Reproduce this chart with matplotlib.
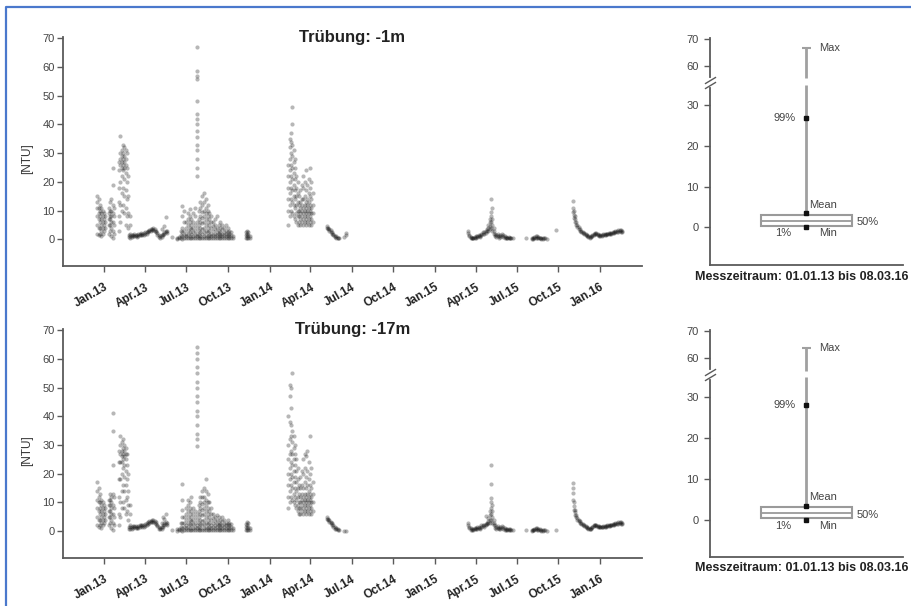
import numpy as np
import pandas as pd
import matplotlib
matplotlib.use("Agg")
import matplotlib.pyplot as plt
import matplotlib.transforms as mtransforms
from matplotlib.lines import Line2D

plt.rcParams['font.family'] = ['Liberation Sans', 'DejaVu Sans']

# ---------------------------------------------------------------- data
START = pd.Timestamp('2013-01-01')        # day 0 of the day offsets below
X_MIN, X_MAX = '2012-10-02', '2016-04-02'

xtick_dates = ['2013-01-01', '2013-04-01', '2013-07-01', '2013-10-01',
               '2014-01-01', '2014-04-01', '2014-07-01', '2014-10-01',
               '2015-01-01', '2015-04-01', '2015-07-01', '2015-10-01',
               '2016-01-01']
xtick_labels = ['Jan.13', 'Apr.13', 'Jul.13', 'Oct.13', 'Jan.14', 'Apr.14',
                'Jul.14', 'Oct.14', 'Jan.15', 'Apr.15', 'Jul.15', 'Oct.15',
                'Jan.16']
titles = ['Trübung: -1m', 'Trübung: -17m']
period_text = 'Messzeitraum: 01.01.13 bis 08.03.16'

# readings per measuring day (days after 01.01.2013), -1 m ("top") / -17 m ("bot")
a_days = [-16, -13, -10, -7, -4, -1, 2, 9, 12, 15, 18, 20]
a_top = [[2, 5, 8, 11, 13, 15], [1.5, 4, 7, 9, 11, 14], [2, 4, 6, 8, 10, 12],
         [1, 3, 5, 7, 9, 11], [2, 4, 6, 8, 10], [3, 5, 7, 9], [4, 6, 8],
         [2, 5, 7, 9, 11], [3, 5, 7, 8, 10, 13], [1, 4, 6, 8, 10, 14],
         [0.5, 3, 6, 9, 12, 19, 25], [2, 5, 8, 11]]
a_bot = [[2, 5, 8, 11, 14, 17], [1.5, 4, 7, 10, 12, 15], [2, 4, 6, 8, 10, 13],
         [1, 3, 5, 7, 9, 11], [2, 4, 6, 8, 10], [3, 5, 7, 9], [4, 6, 8],
         [2, 5, 7, 9, 11], [3, 5, 7, 9, 11, 13], [1, 4, 6, 8, 10, 12],
         [0.5, 3, 6, 9, 13, 23, 35, 41], [2, 5, 8, 12]]

b_days = [32, 35, 38, 41, 44, 47, 50, 53, 56]
b_top = [[3, 8, 13, 18, 24, 27], [6, 12, 20, 26, 28, 30, 36], [10, 16, 22, 25, 27, 29, 31],
         [12, 18, 24, 26, 28, 30, 33], [9, 15, 21, 25, 27, 29, 32], [5, 11, 17, 23, 26, 28, 31],
         [8, 14, 20, 25, 30], [4, 9, 15, 22], [2, 5, 8]]
b_bot = [[2, 6, 12, 18, 24, 28], [5, 10, 18, 24, 27, 30, 33], [8, 14, 20, 24, 26, 28, 31],
         [10, 16, 22, 25, 27, 29, 32], [8, 14, 19, 23, 26, 28, 30], [6, 11, 16, 21, 25, 27, 29],
         [7, 12, 18, 23, 27], [4, 9, 14, 20], [2, 6, 9]]

c_days = [54, 57, 60, 63, 66, 69, 72, 75, 78, 81, 84, 87, 90, 93, 96, 99, 102, 105,
          108, 111, 114, 117, 120, 123, 126, 129, 132, 135, 138, 149]
c_top = [[0.8, 1.4], [0.6, 1.2], [0.8, 1.4], [1.0, 1.6], [1.2, 1.8], [1.0, 1.6], [0.9, 1.5],
         [1.1, 1.7], [1.4, 2.0], [1.6, 2.2], [1.4, 2.0], [1.5, 2.1], [1.8, 2.4], [2.0, 2.6],
         [2.4, 3.0], [2.8, 3.4], [3.0, 3.6], [3.1, 3.7], [3.2, 3.8], [2.9, 3.5], [2.4, 3.0],
         [1.6, 2.2], [0.8, 1.4], [0.5, 1.1], [0.8, 1.4, 3.5], [1.4, 2.0], [2.0, 2.6, 4.5],
         [2.4, 3.0, 7.8], [2.2, 2.8], [0.8]]
c_bot = [[0.8, 1.4], [0.7, 1.3], [0.9, 1.5], [1.1, 1.7], [1.3, 1.9], [1.1, 1.7], [1.0, 1.6],
         [1.2, 1.8], [1.5, 2.1], [1.7, 2.3], [1.5, 2.1], [1.6, 2.2], [1.9, 2.5], [2.1, 2.7],
         [2.5, 3.1], [2.9, 3.5], [3.1, 3.7], [3.2, 3.8], [3.3, 3.9], [3.0, 3.6], [2.5, 3.1],
         [1.7, 2.3], [0.9, 1.5], [0.6, 1.2], [0.9, 1.5, 3.0], [1.5, 2.1, 5.0], [2.1, 2.7, 4.2],
         [2.5, 3.1, 5.8], [2.3, 2.9], [0.5]]

d_days = [160, 164, 168, 172, 176, 180, 184, 188, 192, 196, 200, 204, 208, 212, 216, 220,
          224, 228, 232, 236, 240, 244, 248, 252, 256, 260, 264, 268, 272, 276, 280, 284]
d_top = [[0.2, 0.6], [0.3, 0.8], [0.5, 1.5, 3], [0.2, 1, 2.5, 4, 8, 11.5], [0.5, 1.5, 3, 6, 10],
         [0.3, 1, 2, 4, 6], [0.5, 1.5, 3, 5, 7, 9], [0.3, 1, 2.5, 4, 6, 8, 10.5],
         [0.5, 2, 3.5, 5, 7], [0.3, 1, 2.5, 4, 6, 9], [0.5, 1.5, 3, 5, 8, 11], [0.3, 1, 2, 4, 6],
         [0.5, 1.5, 3, 5, 7, 10], [0.3, 1, 2.5, 4, 6, 8, 11, 13],
         [0.5, 2, 3.5, 5.5, 7.5, 9.5, 12, 15], [0.3, 1, 2.5, 4, 6, 8, 10, 13, 16],
         [0.5, 1.5, 3, 5, 7, 9, 11, 14], [0.3, 1, 2.5, 4, 6, 8, 10, 12], [0.5, 1.5, 3, 5, 7, 9],
         [0.3, 1, 2, 4, 6, 8], [0.5, 1.5, 3, 4.5, 6], [0.3, 1, 2, 3.5, 5, 7], [0.5, 1.5, 2.5, 4, 8],
         [0.3, 1, 2, 3, 5], [0.5, 1.5, 2.5, 4, 6], [0.3, 1, 2, 3.5, 5], [0.5, 1.5, 2.5, 4],
         [0.3, 1, 2, 3, 5], [0.5, 1.5, 2.5, 4], [0.3, 1, 2, 3], [0.5, 1.5, 2.5], [0.3, 1.2]]
d_bot = [[0.2, 0.6], [0.3, 0.8], [0.5, 1.5, 3], [0.2, 1, 3, 5, 7.5, 11, 16.3], [0.5, 1.5, 3, 5],
         [0.3, 1, 2, 4, 6, 8], [0.5, 1.5, 3, 5, 7, 9, 11], [0.3, 1, 2.5, 4, 6, 8, 10],
         [0.5, 2, 3.5, 5, 7, 12], [0.3, 1, 2.5, 4, 6, 8], [0.5, 1.5, 3, 5, 7], [0.3, 1, 2, 4, 6],
         [0.5, 1.5, 3, 5, 7, 9], [0.3, 1, 2.5, 4, 6, 8, 10, 12],
         [0.5, 2, 3.5, 5.5, 7.5, 9.5, 12, 14], [0.3, 1, 2.5, 4, 6, 8, 10, 12, 15],
         [0.5, 1.5, 3, 5, 7, 9, 11, 14, 18], [0.3, 1, 2.5, 4, 6, 8, 10, 13], [0.5, 1.5, 3, 5, 7, 10],
         [0.3, 1, 2, 4, 6, 8], [0.5, 1.5, 3, 4.5, 6], [0.3, 1, 2, 3.5, 5], [0.5, 1.5, 2.5, 4, 5.5],
         [0.3, 1, 2, 3, 5], [0.5, 1.5, 2.5, 4], [0.3, 1, 2, 3.5, 5], [0.5, 1.5, 2.5, 4],
         [0.3, 1, 2, 3], [0.5, 1.5, 2.5, 4], [0.3, 1, 2, 3], [0.5, 1.5, 2.5], [0.3, 1.2]]

spike_days = [204]
spike_top = [[22, 25, 28, 31, 33, 35.5, 37.7, 40, 42, 43.8, 48.2, 55.8, 57, 58.6, 67]]
spike_bot = [[29.5, 32, 34, 37, 40, 42, 45, 47, 50, 52, 55, 57, 60, 62, 64]]

e_days = [312, 315, 318, 321]
e_top = [[0.5, 1.5, 2.5], [0.3, 1, 2, 3], [0.5, 1.5, 2.5], [0.5, 1.2]]
e_bot = [[0.5, 1.5, 2.5], [0.3, 1, 2, 3.2], [0.5, 1.5, 2.8], [0.5, 1.2]]

f_days = [406, 409, 412, 415, 418, 421, 424, 427, 430, 433, 436, 439, 442, 445, 448,
          451, 454, 457, 460]
f_top = [[5, 10, 14, 18, 22, 26], [8, 12, 16, 20, 24, 28, 32, 35], [10, 14, 18, 22, 26, 30, 34, 37],
         [9, 13, 17, 21, 25, 29, 33, 40, 46], [8, 12, 15, 19, 23, 27, 31], [7, 11, 14, 17, 21, 25, 28],
         [6, 9, 12, 15, 18, 22], [5, 8, 10, 13, 16, 20], [6, 8, 10, 12, 15], [5, 7, 9, 11, 13, 17],
         [6, 8, 10, 12, 14, 19], [5, 7, 9, 11, 14, 18, 22], [6, 8, 10, 12, 15, 20],
         [5, 7, 9, 11, 13, 17, 24], [6, 8, 10, 12, 14, 19], [5, 7, 9, 11, 13, 16, 21],
         [6, 8, 10, 12, 15, 18, 25], [5, 7, 9, 11, 14, 20], [6, 9, 12, 16]]
f_bot = [[8, 12, 16, 20, 25, 30, 40], [10, 14, 18, 22, 27, 32, 38, 47, 51],
         [12, 16, 20, 24, 28, 33, 37, 43, 50], [11, 15, 19, 23, 27, 31, 35, 55],
         [10, 13, 17, 21, 25, 29, 33], [9, 12, 15, 19, 23, 27, 30], [8, 11, 14, 17, 21, 25],
         [7, 9, 12, 15, 18, 22], [6, 8, 10, 13, 16], [6, 8, 10, 12, 15, 19], [7, 9, 11, 13, 16, 21],
         [6, 8, 10, 12, 15, 20, 25], [7, 9, 11, 13, 17, 22, 27], [6, 8, 10, 12, 15, 19, 26],
         [7, 9, 11, 13, 16, 21, 28], [6, 8, 10, 12, 14, 18, 24], [7, 9, 11, 13, 16, 20, 33],
         [6, 8, 10, 12, 15, 22], [7, 10, 13, 17]]

g_days = [491, 494, 497, 500, 503, 506, 509, 512, 515, 518, 530, 534]
g_top = [[4.5, 4.0], [4.0, 3.6], [3.5, 3.0], [3.2, 2.5], [2.5, 2.0], [2.0, 1.5], [1.2, 0.8],
         [1.0, 0.5], [0.6, 0.3], [0.5], [0.8], [1.5, 2.2]]
g_bot = [[4.8, 4.2], [4.2, 3.8], [3.8, 3.2], [3.3, 2.8], [2.8, 2.2], [2.2, 1.6], [1.4, 0.9],
         [1.0, 0.6], [0.7, 0.4], [0.5], [0.1], [0.0]]

i_days = [803, 806, 809, 812, 815, 818, 821, 824, 827, 830, 833, 836, 839, 842, 845, 848,
          851, 854, 857, 860, 863, 866, 869, 872, 875, 878, 881, 884, 887, 890, 893, 896,
          899, 902, 932, 944, 947, 950, 953, 956, 959, 962, 965, 968, 971, 974, 977, 998]
i_top = [[3.0, 2.2], [1.5, 1.0], [0.8, 0.4], [0.5, 0.3], [0.6, 0.3], [0.8, 0.5], [1.0, 0.6],
         [1.2, 0.8], [1.5, 1.0], [1.2, 0.9], [1.5, 2.0], [2.0, 2.5], [2.5, 1.8], [2.2, 3.0],
         [2.8, 3.5], [3.0, 4.0, 5.0], [3.5, 4.5, 6.0, 7.0], [4.0, 6.0, 8.0, 9.5, 14.0],
         [3.0, 5.0, 7.0, 11.0], [2.0, 3.0, 4.0], [1.2, 2.0], [0.8, 1.5], [1.0, 1.8], [1.2, 0.6],
         [1.5, 0.8], [1.0, 2.0], [0.8, 1.5], [1.0, 0.5], [0.8, 0.4], [0.6, 0.3], [0.5, 0.8],
         [0.4, 0.6], [0.5], [0.4], [0.3], [0.4, 0.2], [0.5, 0.2], [0.7, 0.3], [1.0, 0.5],
         [1.2, 0.6], [0.8, 0.4], [0.6, 0.3], [0.5, 0.2], [0.4, 0.2], [0.3], [0.3], [0.2], [3.2]]
i_bot = [[3.0, 2.0], [1.5, 1.0], [1.0, 0.5], [0.8, 0.4], [0.8, 0.4], [1.0, 0.6], [1.2, 0.8],
         [1.3, 0.9], [1.5, 1.0], [1.2, 0.9], [1.5, 2.0], [1.8, 2.3], [2.0, 1.6], [2.0, 2.5, 5.2],
         [2.5, 3.0], [2.8, 3.5, 4.5], [3.0, 4.0, 5.5, 7.0], [4.0, 6.0, 8.0, 10.0, 11.5, 16.5, 23.0],
         [3.0, 5.0, 7.0, 9.0], [2.0, 3.0, 4.0], [1.2, 2.0], [0.8, 1.5], [1.0, 1.8], [1.2, 0.6],
         [1.5, 0.8], [1.0, 1.8], [0.8, 1.4], [1.0, 0.5], [0.8, 0.4], [0.6, 0.3], [0.5, 0.8],
         [0.4, 0.6], [0.5], [0.4], [0.4], [0.4, 0.2], [0.5, 0.3], [0.8, 0.4], [1.1, 0.6],
         [1.0, 0.5], [0.8, 0.4], [0.6, 0.3], [0.5, 0.2], [0.4, 0.2], [0.3], [0.3], [0.2], [0.4]]

j_days = [1035, 1037, 1039, 1042, 1045, 1048, 1051, 1054, 1057, 1060, 1063, 1066, 1069,
          1072, 1075, 1078, 1081, 1084, 1087, 1090, 1093, 1096, 1099, 1102, 1105, 1108,
          1111, 1114, 1117, 1120, 1123, 1126, 1129, 1132, 1135, 1138, 1141, 1144]
j_top = [[13.5, 11.0, 9.5], [10.0, 8.5, 7.5], [8.0, 7.0, 6.0], [6.0, 5.0], [5.0, 4.2],
         [4.2, 3.6], [3.6, 3.0], [3.0, 2.6], [2.6, 2.2], [2.2, 1.8], [1.8, 1.4], [1.4, 1.0],
         [1.0, 0.7], [0.8, 0.5], [0.8, 1.0], [1.2, 1.5], [1.6, 1.9], [1.9, 2.2], [1.8, 2.1],
         [1.5, 1.8], [1.3, 1.6], [1.2, 1.5], [1.3, 1.6], [1.4, 1.7], [1.5, 1.8], [1.6, 1.9],
         [1.7, 2.0], [1.8, 2.1], [1.9, 2.2], [2.0, 2.3], [2.1, 2.4], [2.2, 2.6], [2.4, 2.8],
         [2.6, 3.0], [2.7, 3.2], [2.8, 3.3], [2.7, 3.2], [2.6, 3.0]]
j_bot = [[16.8, 15.0, 13.4, 11.0], [10.0, 8.7, 7.5], [7.5, 6.5, 5.5], [5.5, 4.8], [4.6, 4.0],
         [4.0, 3.4], [3.4, 2.9], [2.9, 2.5], [2.5, 2.1], [2.1, 1.7], [1.7, 1.3], [1.3, 1.0],
         [1.0, 0.7], [0.8, 0.6], [0.9, 1.1], [1.3, 1.6], [1.7, 2.0], [2.0, 2.3], [1.9, 2.2],
         [1.6, 1.9], [1.4, 1.7], [1.3, 1.6], [1.3, 1.6], [1.4, 1.7], [1.5, 1.8], [1.6, 1.9],
         [1.7, 2.0], [1.8, 2.1], [1.9, 2.2], [2.0, 2.3], [2.1, 2.4], [2.2, 2.6], [2.4, 2.8],
         [2.5, 2.9], [2.6, 3.1], [2.7, 3.2], [2.6, 3.1], [2.5, 2.9]]

# box-plot statistics [-1 m, -17 m]
box_min = [0.0, 0.0]
box_q1 = [0.25, 0.4]
box_med = [1.6, 1.6]
box_q3 = [3.1, 3.0]
box_mean = [3.5, 3.4]
box_p99 = [26.9, 28.0]
box_max = [66.6, 63.8]

series_top = [(a_days, a_top), (b_days, b_top), (c_days, c_top), (d_days, d_top),
              (spike_days, spike_top), (e_days, e_top), (f_days, f_top), (g_days, g_top),
              (i_days, i_top), (j_days, j_top)]
series_bot = [(a_days, a_bot), (b_days, b_bot), (c_days, c_bot), (d_days, d_bot),
              (spike_days, spike_bot), (e_days, e_bot), (f_days, f_bot), (g_days, g_bot),
              (i_days, i_bot), (j_days, j_bot)]


def expand(series):
    xs, ys = [], []
    for days, vals in series:
        for d, vs in zip(days, vals):
            xs.extend([d] * len(vs))
            ys.extend(vs)
    dates = START + pd.to_timedelta(np.asarray(xs, float), unit='D')
    return dates, np.asarray(ys, float)


# broken axis for the box plots (35..55 compressed)
BRK_LO, BRK_HI = 35.0, 55.0
_xp = [-1000.0, BRK_LO, BRK_HI, 1000.0]
_fp = [-1000.0, BRK_LO, 36.2, 36.2 + (1000.0 - BRK_HI) * 0.671]


def fwd(y):
    return np.interp(np.asarray(y, float), _xp, _fp)


def inv(t):
    return np.interp(np.asarray(t, float), _fp, _xp)


# ---------------------------------------------------------------- figure
SPINE = '#5a5a5a'
TICKC = '#444444'
fig = plt.figure(figsize=(9.12, 6.06), dpi=100)

layout = [(0.5611, 0.5627, 0.5432), (0.0795, 0.0804, 0.0627)]

for k, (series, (sb, bb, ty)) in enumerate(zip([series_top, series_bot], layout)):
    # ---------- time series
    ax = fig.add_axes([0.0694, sb, 0.6342, 0.3771])
    dates, vals = expand(series)
    ax.plot(dates, vals, 'o', ms=3.0, color='#111111', alpha=0.3, mew=0)
    ax.set_xlim(pd.Timestamp(X_MIN), pd.Timestamp(X_MAX))
    ax.set_ylim(-9.3, 70.3)
    ax.set_yticks(range(0, 71, 10))
    ax.set_xticks(pd.to_datetime(xtick_dates))
    ax.set_xticklabels(xtick_labels, rotation=30, ha='right', rotation_mode='anchor',
                       fontsize=8.5, fontweight='bold', color='#222222')
    for s in ('top', 'right'):
        ax.spines[s].set_visible(False)
    for s in ('left', 'bottom'):
        ax.spines[s].set_color(SPINE)
        ax.spines[s].set_linewidth(1.3)
    ax.tick_params(axis='y', direction='out', length=4, width=1, color=SPINE,
                   labelsize=8, labelcolor=TICKC, pad=2)
    ax.tick_params(axis='x', direction='out', length=4, width=1, color=SPINE, pad=7)
    ax.set_ylabel('[NTU]', fontsize=8.5, color='#333333')
    ax.yaxis.set_label_coords(-0.053, 0.468)
    ax.text(0.5, 1.0, titles[k], transform=ax.transAxes, ha='center', va='center',
            fontsize=12, fontweight='bold', color='#222222')

    # ---------- box plot
    bx = fig.add_axes([0.7785, bb, 0.2116, 0.3748])
    bx.set_yscale('function', functions=(fwd, inv))
    bx.set_xlim(0, 2)
    bx.set_ylim(-9.2, 70.3)
    bx.set_yticks([0, 10, 20, 30, 60, 70])
    bx.set_xticks([])
    for s in ('top', 'right'):
        bx.spines[s].set_visible(False)
    for s in ('left', 'bottom'):
        bx.spines[s].set_color(SPINE)
        bx.spines[s].set_linewidth(1.3)
    bx.tick_params(axis='y', direction='out', length=4, width=1, color=SPINE,
                   labelsize=8, labelcolor=TICKC, pad=4)

    q1, q3, med = box_q1[k], box_q3[k], box_med[k]
    mn, mx, mean, p99 = box_min[k], box_max[k], box_mean[k], box_p99[k]
    wc = '#a0a0a0'
    bx.vlines(1, q3, BRK_LO, color=wc, lw=2, zorder=2)
    bx.vlines(1, BRK_HI + 0.5, mx, color=wc, lw=2, zorder=2)
    bx.hlines(mx, 0.95, 1.05, color=wc, lw=1.5, zorder=2)
    bx.bar(1, q3 - q1, bottom=q1, width=0.95, color='white', edgecolor='#9a9a9a',
           linewidth=1.5, zorder=3)
    bx.hlines(med, 0.525, 1.475, color='#9a9a9a', lw=1.3, zorder=4)
    bx.plot([1, 1, 1], [p99, mean, mn], 's', color='#111111', ms=2.8, zorder=5)

    lab = dict(fontsize=8, color='#444444', textcoords='offset points')
    bx.annotate('Max', (1, mx), xytext=(9, 0), ha='left', va='center', **lab)
    bx.annotate('99%', (1, p99), xytext=(-7.5, 0), ha='right', va='center', **lab)
    bx.annotate('Mean', (1, mean), xytext=(2, 2.5), ha='left', va='bottom', **lab)
    bx.annotate('50%', (1.475, med), xytext=(3, -1), ha='left', va='center', **lab)
    bx.annotate('1%', (1, mn), xytext=(-11, -4.2), ha='right', va='center', **lab)
    bx.annotate('Min', (1, mn), xytext=(9, -4.2), ha='left', va='center', **lab)

    # break marks on the axis
    trans = mtransforms.blended_transform_factory(bx.transAxes, bx.transData)
    bx.plot([0, 0], [BRK_LO, BRK_HI], color='white', lw=3, transform=trans,
            clip_on=False, zorder=6)
    bx.plot([0, 0], [BRK_LO, BRK_HI], ls='none', marker=[(-1, -0.6), (1, 0.6)], ms=8,
            mec=SPINE, mew=1, transform=trans, clip_on=False, zorder=7)

    fig.text(695 / 912, ty, period_text, ha='left', va='center', fontsize=9.0,
             fontweight='bold', color='#222222')

# blue frame
fig.add_artist(Line2D([0.0071, 0.0071, 1.0], [0.0, 0.9884, 0.9884],
                      transform=fig.transFigure, color='#4a78cc', lw=1.6))

fig.savefig('out.png', dpi=100)
